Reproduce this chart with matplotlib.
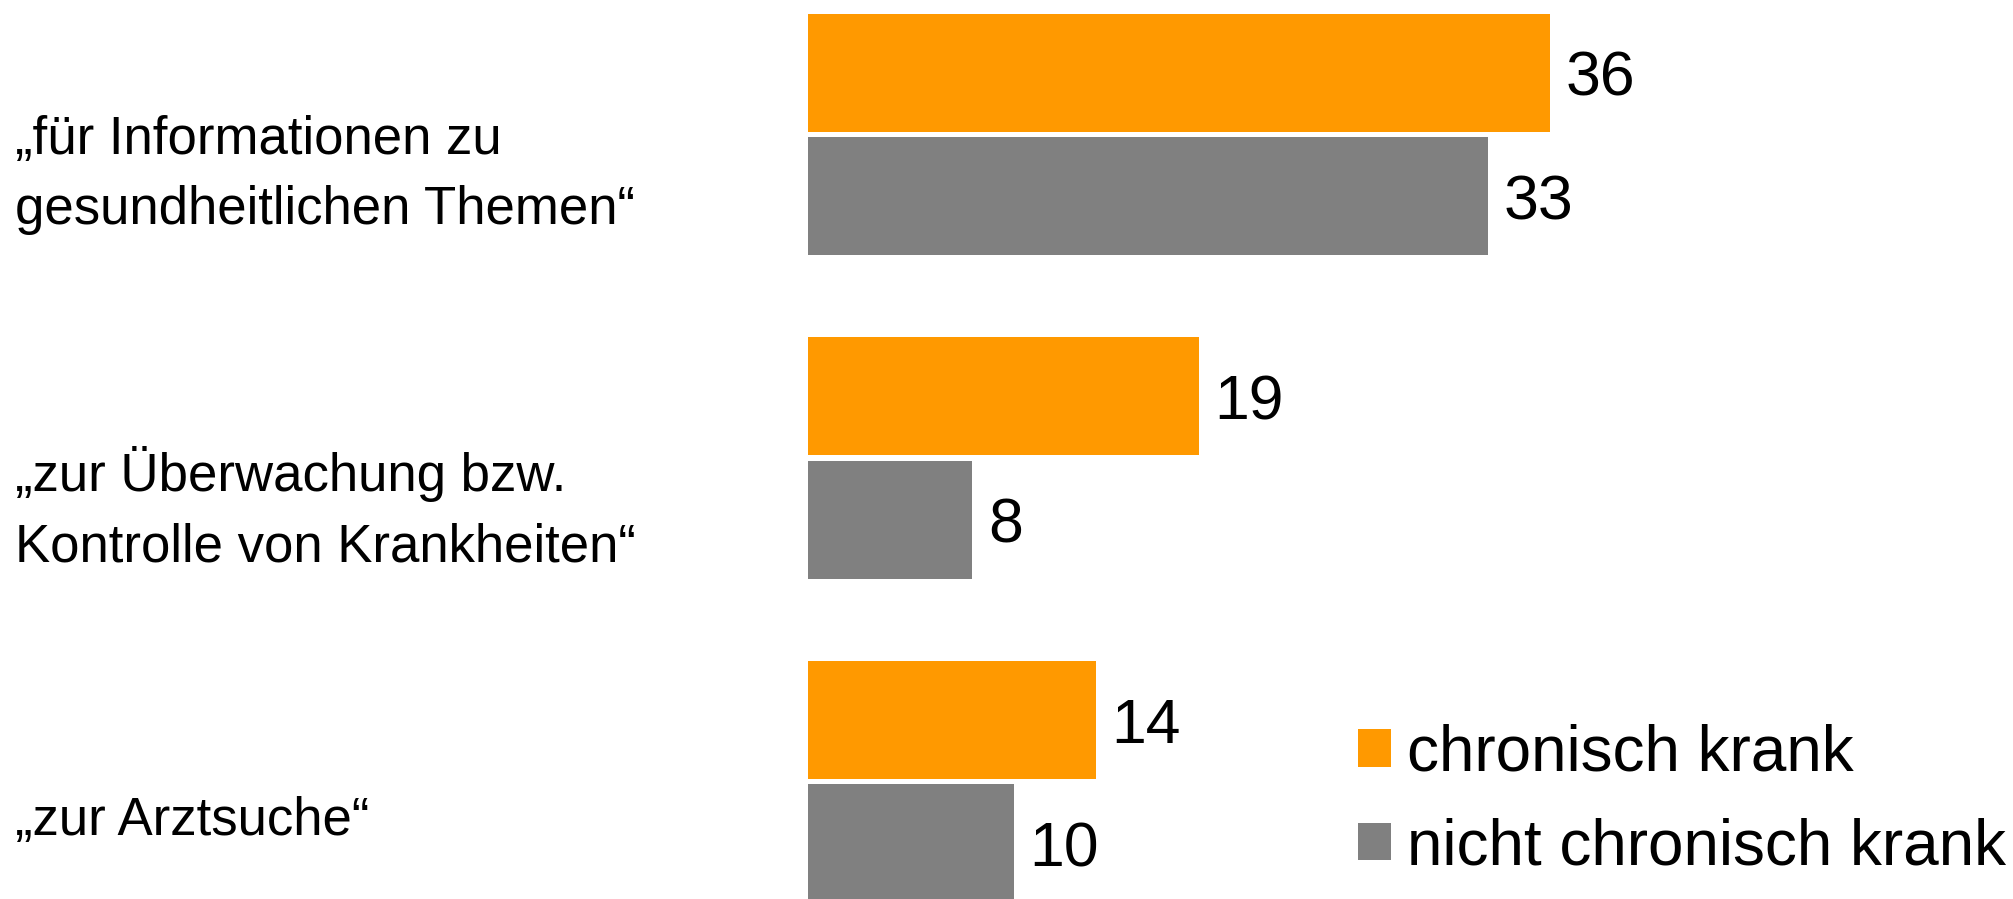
import matplotlib.pyplot as plt
import numpy as np

categories = [
    "„für Informationen zu\ngesundheitlichen Themen“",
    "„zur Überwachung bzw.\nKontrolle von Krankheiten“",
    "„zur Arztsuche“",
]
series_names = ["chronisch krank", "nicht chronisch krank"]
chronisch = [36, 19, 14]
nicht_chronisch = [33, 8, 10]
colors = ["#ff9900", "#808080"]

# layout (data units: one group per y step, x in percent)
bar_h = 0.365
shift = 0.191
label_x = -38.43
label_dy = [0.277, 0.321, 0.166]

plt.rcParams["font.family"] = ["Liberation Sans", "DejaVu Sans"]

fig = plt.figure(figsize=(20.13, 8.99), dpi=100)
ax = fig.add_axes([0, 0, 1, 1])

y = np.arange(len(categories))
b1 = ax.barh(y - shift, chronisch, height=bar_h, color=colors[0], label=series_names[0])
b2 = ax.barh(y + shift, nicht_chronisch, height=bar_h, color=colors[1], label=series_names[1])
for bars in (b1, b2):
    for t in ax.bar_label(bars, padding=11, fontsize=45):
        t.set_va("center_baseline")

for i, cat in enumerate(categories):
    ax.text(label_x, y[i] + label_dy[i], cat, ha="left", va="baseline",
            fontsize=38, linespacing=1.52)

ax.set_xlim(-39.16, 58.46)
ax.set_ylim(2.3635, -0.4155)
ax.axis("off")

fig.legend(handles=[b1, b2], loc="center left", bbox_to_anchor=(0.6746, 0.1095),
           frameon=False, fontsize=46, handlelength=0.52, handleheight=0.52,
           handletextpad=0.25, labelspacing=0.53, borderpad=0, borderaxespad=0)

fig.savefig("out.png", dpi=100)
